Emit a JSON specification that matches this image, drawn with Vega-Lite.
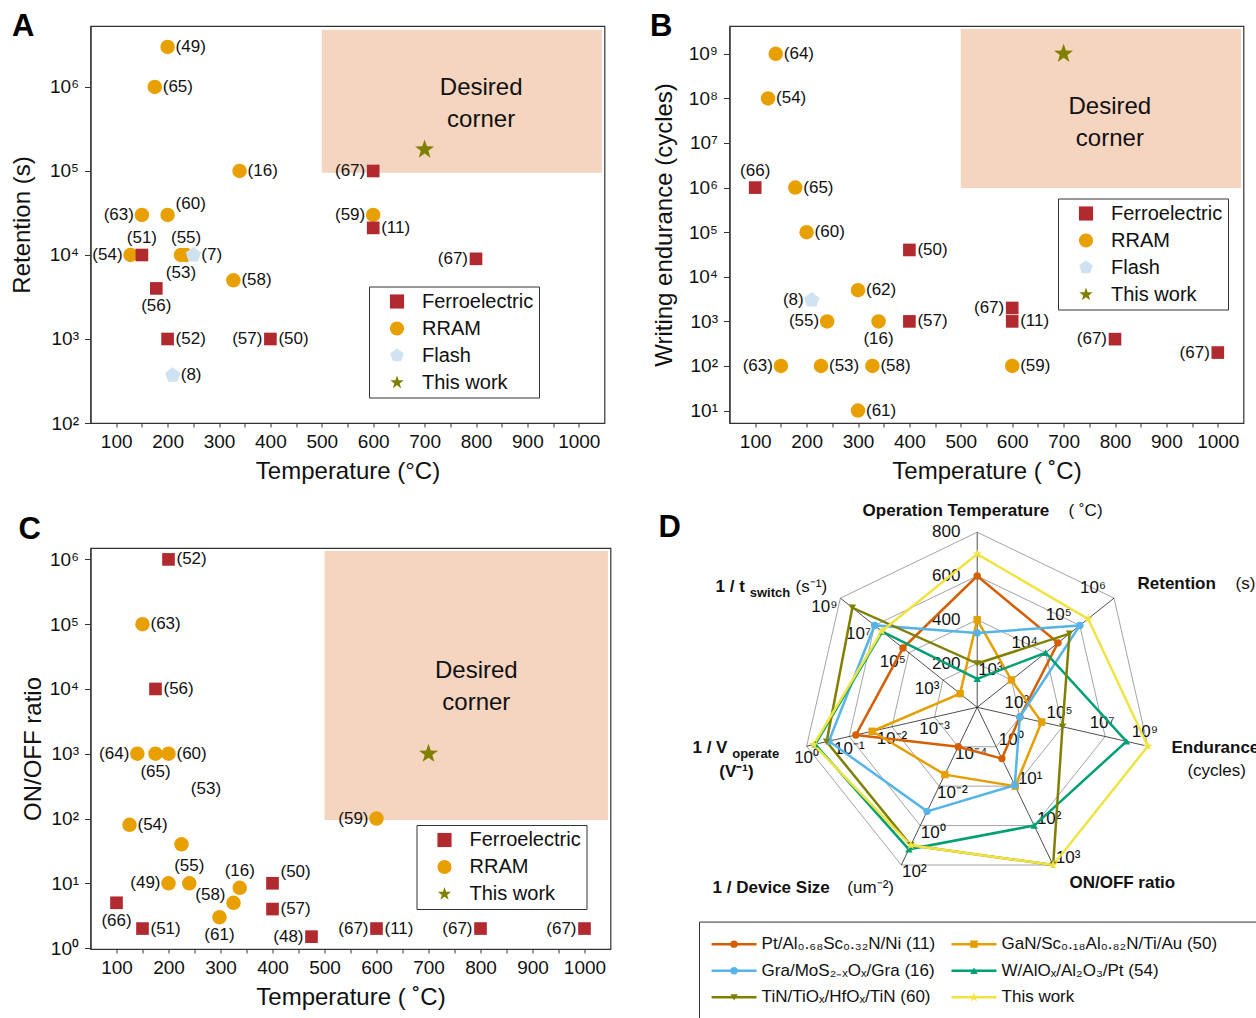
{
"$schema": "https://vega.github.io/schema/vega-lite/v6.json",
"background": "white",
"padding": {"left": 9.5, "top": 10, "right": 2, "bottom": 2},
"config": {
 "font": "Liberation Sans",
 "view": {"stroke": "#333", "strokeWidth": 1.2},
 "axis": {"domainColor": "#333", "domainWidth": 1.2, "tickColor": "#333", "tickWidth": 1, "labelFont": "Liberation Sans", "labelFontSize": 19, "labelColor": "#111", "titleFont": "Liberation Sans", "titleFontSize": 24, "titleFontWeight": "normal", "titleColor": "#111", "grid": false, "labelOverlap": false, "labelFlush": false},
 "axisX": {"tickSize": 4, "labelPadding": 5, "titlePadding": 8},
 "axisY": {"tickSize": 6, "labelPadding": 6},
 "text": {"font": "Liberation Sans", "fontSize": 17, "color": "#111"},
 "title": {"font": "Liberation Sans Narrow, Liberation Sans", "fontSize": 31, "fontWeight": "bold", "color": "#000", "anchor": "start", "frame": "group", "offset": 0, "baseline": "alphabetic"}
},
"datasets": {
 "A": [
  {"T":200,"v":3e6,"type":"RRAM","ref":"(49)","side":"r"},
  {"T":175,"v":1e6,"type":"RRAM","ref":"(65)","side":"r"},
  {"T":340,"v":1e5,"type":"RRAM","ref":"(16)","side":"r"},
  {"T":150,"v":3e4,"type":"RRAM","ref":"(63)","side":"l"},
  {"T":200,"v":3e4,"type":"RRAM","ref":"(60)","side":"tr"},
  {"T":128,"v":1e4,"type":"RRAM","ref":"(54)","side":"l"},
  {"T":226,"v":1e4,"type":"RRAM","ref":"(53)","side":"b"},
  {"T":236,"v":1e4,"type":"RRAM","ref":"(55)","side":"t"},
  {"T":328,"v":5e3,"type":"RRAM","ref":"(58)","side":"r"},
  {"T":600,"v":3e4,"type":"RRAM","ref":"(59)","side":"l"},
  {"T":250,"v":1e4,"type":"Flash","ref":"(7)","side":"r"},
  {"T":210,"v":370,"type":"Flash","ref":"(8)","side":"r"},
  {"T":150,"v":1e4,"type":"Ferroelectric","ref":"(51)","side":"t"},
  {"T":178,"v":4e3,"type":"Ferroelectric","ref":"(56)","side":"b"},
  {"T":200,"v":1e3,"type":"Ferroelectric","ref":"(52)","side":"r"},
  {"T":400,"v":1e3,"type":"Ferroelectric","ref":"(57)","side":"l"},
  {"T":400,"v":1e3,"type":"none","ref":"(50)","side":"r"},
  {"T":600,"v":1e5,"type":"Ferroelectric","ref":"(67)","side":"l"},
  {"T":600,"v":2.1e4,"type":"Ferroelectric","ref":"(11)","side":"r"},
  {"T":800,"v":9e3,"type":"Ferroelectric","ref":"(67)","side":"l"},
  {"T":700,"v":1.8e5,"type":"This work","ref":"","side":"none"}
 ],
 "B": [
  {"T":140,"v":1e9,"type":"RRAM","ref":"(64)","side":"r"},
  {"T":125,"v":1e8,"type":"RRAM","ref":"(54)","side":"r"},
  {"T":178,"v":1e6,"type":"RRAM","ref":"(65)","side":"r"},
  {"T":200,"v":1e5,"type":"RRAM","ref":"(60)","side":"r"},
  {"T":300,"v":5e3,"type":"RRAM","ref":"(62)","side":"r"},
  {"T":240,"v":1e3,"type":"RRAM","ref":"(55)","side":"l"},
  {"T":340,"v":1e3,"type":"RRAM","ref":"(16)","side":"b"},
  {"T":150,"v":100,"type":"RRAM","ref":"(63)","side":"l"},
  {"T":228,"v":100,"type":"RRAM","ref":"(53)","side":"r"},
  {"T":328,"v":100,"type":"RRAM","ref":"(58)","side":"r"},
  {"T":600,"v":100,"type":"RRAM","ref":"(59)","side":"r"},
  {"T":300,"v":10,"type":"RRAM","ref":"(61)","side":"r"},
  {"T":210,"v":3e3,"type":"Flash","ref":"(8)","side":"l"},
  {"T":100,"v":1e6,"type":"Ferroelectric","ref":"(66)","side":"t"},
  {"T":400,"v":4e4,"type":"Ferroelectric","ref":"(50)","side":"r"},
  {"T":400,"v":1e3,"type":"Ferroelectric","ref":"(57)","side":"r"},
  {"T":600,"v":2e3,"type":"Ferroelectric","ref":"(67)","side":"l"},
  {"T":600,"v":1e3,"type":"Ferroelectric","ref":"(11)","side":"r"},
  {"T":800,"v":400,"type":"Ferroelectric","ref":"(67)","side":"l"},
  {"T":1000,"v":200,"type":"Ferroelectric","ref":"(67)","side":"l"},
  {"T":700,"v":1e9,"type":"This work","ref":"","side":"none"}
 ],
 "C": [
  {"T":150,"v":1e5,"type":"RRAM","ref":"(63)","side":"r"},
  {"T":140,"v":1e3,"type":"RRAM","ref":"(64)","side":"l"},
  {"T":175,"v":1e3,"type":"RRAM","ref":"(65)","side":"b"},
  {"T":200,"v":1e3,"type":"RRAM","ref":"(60)","side":"r"},
  {"T":272,"v":290,"type":"none","ref":"(53)","side":"c"},
  {"T":125,"v":80,"type":"RRAM","ref":"(54)","side":"r"},
  {"T":225,"v":40,"type":"RRAM","ref":"","side":"none"},
  {"T":200,"v":10,"type":"RRAM","ref":"(49)","side":"l"},
  {"T":240,"v":10,"type":"RRAM","ref":"(55)","side":"t"},
  {"T":337,"v":8.5,"type":"RRAM","ref":"(16)","side":"t"},
  {"T":325,"v":5,"type":"RRAM","ref":"(58)","side":"tl"},
  {"T":298,"v":3,"type":"RRAM","ref":"(61)","side":"b"},
  {"T":600,"v":100,"type":"RRAM","ref":"(59)","side":"l"},
  {"T":200,"v":1e6,"type":"Ferroelectric","ref":"(52)","side":"r"},
  {"T":175,"v":1e4,"type":"Ferroelectric","ref":"(56)","side":"r"},
  {"T":400,"v":10,"type":"Ferroelectric","ref":"(50)","side":"tr"},
  {"T":400,"v":4,"type":"Ferroelectric","ref":"(57)","side":"r"},
  {"T":100,"v":5,"type":"Ferroelectric","ref":"(66)","side":"b"},
  {"T":150,"v":2,"type":"Ferroelectric","ref":"(51)","side":"r"},
  {"T":475,"v":1.5,"type":"Ferroelectric","ref":"(48)","side":"l"},
  {"T":600,"v":2,"type":"Ferroelectric","ref":"(67)","side":"l"},
  {"T":600,"v":2,"type":"none","ref":"(11)","side":"r"},
  {"T":800,"v":2,"type":"Ferroelectric","ref":"(67)","side":"l"},
  {"T":1000,"v":2,"type":"Ferroelectric","ref":"(67)","side":"l"},
  {"T":700,"v":1e3,"type":"This work","ref":"","side":"none"}
 ],
 "radarAxes": [
  {"i":0,"lv":[0.25,0.5,0.75,1],"tk":["200","400","600","800"]},
  {"i":1,"lv":[0.25,0.5,0.75,1],"tk":["10³","10⁴","10⁵","10⁶"]},
  {"i":2,"lv":[0.25,0.5,0.75,1],"tk":["10³","10⁵","10⁷","10⁹"]},
  {"i":3,"lv":[0.25,0.5,0.75,1],"tk":["10⁰","10¹","10²","10³"]},
  {"i":4,"lv":[0.25,0.5,0.75,1],"tk":["10⁻⁴","10⁻²","10⁰","10²"]},
  {"i":5,"lv":[0.25,0.5,0.75,1],"tk":["10⁻³","10⁻²","10⁻¹","10⁰"]},
  {"i":6,"lv":[0.25,0.5,0.75,1],"tk":["10³","10⁵","10⁷","10⁹"]}
 ],
 "radar": [
  {"s":"11","i":0,"v":600},{"s":"11","i":1,"v":2.3e4},{"s":"11","i":2,"v":1e3},{"s":"11","i":3,"v":2},{"s":"11","i":4,"v":1e-4},{"s":"11","i":5,"v":0.07},{"s":"11","i":6,"v":2.2e5},
  {"s":"50","i":0,"v":400},{"s":"50","i":1,"v":1e3},{"s":"50","i":2,"v":1.05e4},{"s":"50","i":3,"v":10},{"s":"50","i":4,"v":2.6e-3},{"s":"50","i":5,"v":0.029},{"s":"50","i":6,"v":100},
  {"s":"16","i":0,"v":340},{"s":"16","i":1,"v":1e5},{"s":"16","i":2,"v":1e3},{"s":"16","i":3,"v":9.5},{"s":"16","i":4,"v":0.19},{"s":"16","i":5,"v":0.3},{"s":"16","i":6,"v":1e7},
  {"s":"54","i":0,"v":130},{"s":"54","i":1,"v":1e4},{"s":"54","i":2,"v":1e8},{"s":"54","i":3,"v":100},{"s":"54","i":4,"v":16},{"s":"54","i":5,"v":0.63},{"s":"54","i":6,"v":3.5e6},
  {"s":"60","i":0,"v":200},{"s":"60","i":1,"v":5e4},{"s":"60","i":2,"v":1e5},{"s":"60","i":3,"v":1e3},{"s":"60","i":4,"v":10},{"s":"60","i":5,"v":0.34},{"s":"60","i":6,"v":2e8},
  {"s":"this","i":0,"v":700},{"s":"this","i":1,"v":1.75e5},{"s":"this","i":2,"v":1e9},{"s":"this","i":3,"v":1e3},{"s":"this","i":4,"v":10},{"s":"this","i":5,"v":0.68},{"s":"this","i":6,"v":3.8e6}
 ],
 "series": [
  {"s":"11","label":"Pt/Al₀.₆₈Sc₀.₃₂N/Ni (11)","k":0},
  {"s":"50","label":"GaN/Sc₀.₁₈Al₀.₈₂N/Ti/Au (50)","k":1},
  {"s":"16","label":"Gra/MoS₂₋ₓOₓ/Gra (16)","k":2},
  {"s":"54","label":"W/AlOₓ/Al₂O₃/Pt (54)","k":3},
  {"s":"60","label":"TiN/TiOₓ/HfOₓ/TiN (60)","k":4},
  {"s":"this","label":"This work","k":5}
 ]
},
"vconcat": [
 {
  "hconcat": [
   {
    "width": 514, "height": 397,
    "title": {"text": "A", "dx": -78.5, "dy": 21.4},
    "data": {"name": "A"},
    "encoding": {
     "x": {"field": "T", "type": "quantitative", "scale": {"domain": [50, 1050], "nice": false, "zero": false},
      "axis": {"title": "Temperature (°C)", "format": "d", "values": [100,150,200,250,300,350,400,450,500,550,600,650,700,750,800,850,900,950,1000], "labelExpr": "datum.value % 100 == 0 ? datum.label : ''"}},
     "y": {"field": "v", "type": "quantitative", "scale": {"type": "log", "domain": [100, 5.32e6], "nice": false},
      "axis": {"title": "Retention (s)", "titlePadding": 15, "values": [1e2,1e3,1e4,1e5,1e6],
       "labelExpr": "'10' + (round(log(datum.value)/LN10) == 2 ? '²' : round(log(datum.value)/LN10) == 3 ? '³' : round(log(datum.value)/LN10) == 4 ? '⁴' : round(log(datum.value)/LN10) == 5 ? '⁵' : '⁶')"}}
    },
    "layer": [
     {"data": {"values": [{"T": 500, "T2": 1045, "v": 9.5e4, "v2": 4.8e6}]}, "mark": {"type": "rect", "color": "#f5d4c0"}, "encoding": {"x2": {"field": "T2"}, "y2": {"field": "v2"}}},
     {"data": {"values": [{"T": 810, "v": 8.0e5}]}, "mark": {"type": "text", "text": ["Desired", "corner"], "fontSize": 24, "lineHeight": 32, "align": "center", "baseline": "alphabetic"}},
     {"transform": [{"filter": "datum.type != 'none'"}], "mark": {"type": "point", "filled": true, "opacity": 1, "strokeWidth": 0},
      "encoding": {
       "color": {"field": "type", "type": "nominal", "scale": {"domain": ["Ferroelectric","RRAM","Flash","This work"], "range": ["#b02a30","#e8a000","#cfe2f1","#808000"]},
        "legend": {"title": null, "orient": "none", "legendX": 278.5, "legendY": 260.5, "strokeColor": "#333", "fillColor": "white", "padding": 5, "labelFontSize": 20, "labelFont": "Liberation Sans", "labelColor": "#111", "symbolSize": 200, "symbolOffset": 13, "labelOffset": 15, "rowPadding": 7}},
       "shape": {"field": "type", "type": "nominal", "scale": {"domain": ["Ferroelectric","RRAM","Flash","This work"], "range": ["square","circle","M0,-1L0.951,-0.309L0.588,0.809L-0.588,0.809L-0.951,-0.309Z","M0,-1L0.235,-0.324L0.951,-0.309L0.38,0.124L0.588,0.809L0,0.4L-0.588,0.809L-0.38,0.124L-0.951,-0.309L-0.235,-0.324Z"]}},
       "size": {"condition": [{"test": "datum.type == 'Ferroelectric'", "value": 160}, {"test": "datum.type == 'Flash'", "value": 256}, {"test": "datum.type == 'This work'", "value": 400}], "value": 210}
      }},
     {"transform": [{"filter": "datum.side == 'r'"}], "mark": {"type": "text", "align": "left", "baseline": "middle", "dx": 8}, "encoding": {"text": {"field": "ref", "type": "nominal"}}},
     {"transform": [{"filter": "datum.side == 'l'"}], "mark": {"type": "text", "align": "right", "baseline": "middle", "dx": -8}, "encoding": {"text": {"field": "ref", "type": "nominal"}}},
     {"transform": [{"filter": "datum.side == 't'"}], "mark": {"type": "text", "align": "center", "baseline": "middle", "dy": -17}, "encoding": {"text": {"field": "ref", "type": "nominal"}}},
     {"transform": [{"filter": "datum.side == 'b'"}], "mark": {"type": "text", "align": "center", "baseline": "middle", "dy": 18}, "encoding": {"text": {"field": "ref", "type": "nominal"}}},
     {"transform": [{"filter": "datum.side == 'tr'"}], "mark": {"type": "text", "align": "left", "baseline": "middle", "dx": 8, "dy": -11}, "encoding": {"text": {"field": "ref", "type": "nominal"}}}
    ]
   },
   {
    "width": 514, "height": 397,
    "title": {"text": "B", "dx": -79.5, "dy": 21.4},
    "data": {"name": "B"},
    "encoding": {
     "x": {"field": "T", "type": "quantitative", "scale": {"domain": [50, 1050], "nice": false, "zero": false},
      "axis": {"title": "Temperature ( ˚C)", "format": "d", "values": [100,150,200,250,300,350,400,450,500,550,600,650,700,750,800,850,900,950,1000], "labelExpr": "datum.value % 100 == 0 ? datum.label : ''"}},
     "y": {"field": "v", "type": "quantitative", "scale": {"type": "log", "domain": [5.27, 4.2e9], "nice": false},
      "axis": {"title": "Writing endurance (cycles)", "titlePadding": 12, "values": [1e1,1e2,1e3,1e4,1e5,1e6,1e7,1e8,1e9],
       "labelExpr": "'10' + (round(log(datum.value)/LN10) == 1 ? '¹' : round(log(datum.value)/LN10) == 2 ? '²' : round(log(datum.value)/LN10) == 3 ? '³' : round(log(datum.value)/LN10) == 4 ? '⁴' : round(log(datum.value)/LN10) == 5 ? '⁵' : round(log(datum.value)/LN10) == 6 ? '⁶' : round(log(datum.value)/LN10) == 7 ? '⁷' : round(log(datum.value)/LN10) == 8 ? '⁸' : '⁹')"}}
    },
    "layer": [
     {"data": {"values": [{"T": 500, "T2": 1045, "v": 9.8e5, "v2": 3.6e9}]}, "mark": {"type": "rect", "color": "#f5d4c0"}, "encoding": {"x2": {"field": "T2"}, "y2": {"field": "v2"}}},
     {"data": {"values": [{"T": 790, "v": 4.45e7}]}, "mark": {"type": "text", "text": ["Desired", "corner"], "fontSize": 24, "lineHeight": 32, "align": "center", "baseline": "alphabetic"}},
     {"transform": [{"filter": "datum.type != 'none'"}], "mark": {"type": "point", "filled": true, "opacity": 1, "strokeWidth": 0},
      "encoding": {
       "color": {"field": "type", "type": "nominal", "scale": {"domain": ["Ferroelectric","RRAM","Flash","This work"], "range": ["#b02a30","#e8a000","#cfe2f1","#808000"]},
        "legend": {"title": null, "orient": "none", "legendX": 328.5, "legendY": 172.5, "strokeColor": "#333", "fillColor": "white", "padding": 5, "labelFontSize": 20, "labelFont": "Liberation Sans", "labelColor": "#111", "symbolSize": 200, "symbolOffset": 13, "labelOffset": 15, "rowPadding": 7}},
       "shape": {"field": "type", "type": "nominal", "scale": {"domain": ["Ferroelectric","RRAM","Flash","This work"], "range": ["square","circle","M0,-1L0.951,-0.309L0.588,0.809L-0.588,0.809L-0.951,-0.309Z","M0,-1L0.235,-0.324L0.951,-0.309L0.38,0.124L0.588,0.809L0,0.4L-0.588,0.809L-0.38,0.124L-0.951,-0.309L-0.235,-0.324Z"]}},
       "size": {"condition": [{"test": "datum.type == 'Ferroelectric'", "value": 160}, {"test": "datum.type == 'Flash'", "value": 256}, {"test": "datum.type == 'This work'", "value": 400}], "value": 210}
      }},
     {"transform": [{"filter": "datum.side == 'r'"}], "mark": {"type": "text", "align": "left", "baseline": "middle", "dx": 8}, "encoding": {"text": {"field": "ref", "type": "nominal"}}},
     {"transform": [{"filter": "datum.side == 'l'"}], "mark": {"type": "text", "align": "right", "baseline": "middle", "dx": -8}, "encoding": {"text": {"field": "ref", "type": "nominal"}}},
     {"transform": [{"filter": "datum.side == 't'"}], "mark": {"type": "text", "align": "center", "baseline": "middle", "dy": -17}, "encoding": {"text": {"field": "ref", "type": "nominal"}}},
     {"transform": [{"filter": "datum.side == 'b'"}], "mark": {"type": "text", "align": "center", "baseline": "middle", "dy": 18}, "encoding": {"text": {"field": "ref", "type": "nominal"}}}
    ]
   }
  ],
  "spacing": 125, "bounds": "flush",
  "resolve": {"scale": {"x": "independent", "y": "independent", "color": "independent", "shape": "independent"}, "legend": {"color": "independent", "shape": "independent"}}
 },
 {
  "hconcat": [
   {
    "width": 520, "height": 401,
    "title": {"text": "C", "dx": -72, "dy": 1.6},
    "data": {"name": "C"},
    "encoding": {
     "x": {"field": "T", "type": "quantitative", "scale": {"domain": [50, 1050], "nice": false, "zero": false},
      "axis": {"title": "Temperature ( ˚C)", "format": "d", "values": [100,150,200,250,300,350,400,450,500,550,600,650,700,750,800,850,900,950,1000], "labelExpr": "datum.value % 100 == 0 ? datum.label : ''"}},
     "y": {"field": "v", "type": "quantitative", "scale": {"type": "log", "domain": [0.967, 1.5e6], "nice": false},
      "axis": {"title": "ON/OFF ratio", "titlePadding": 4, "values": [1,1e1,1e2,1e3,1e4,1e5,1e6],
       "labelExpr": "'10' + (round(log(datum.value)/LN10) == 0 ? '⁰' : round(log(datum.value)/LN10) == 1 ? '¹' : round(log(datum.value)/LN10) == 2 ? '²' : round(log(datum.value)/LN10) == 3 ? '³' : round(log(datum.value)/LN10) == 4 ? '⁴' : round(log(datum.value)/LN10) == 5 ? '⁵' : '⁶')"}}
    },
    "layer": [
     {"data": {"values": [{"T": 500, "T2": 1045, "v": 95, "v2": 1.35e6}]}, "mark": {"type": "rect", "color": "#f5d4c0"}, "encoding": {"x2": {"field": "T2"}, "y2": {"field": "v2"}}},
     {"data": {"values": [{"T": 792, "v": 1.48e4}]}, "mark": {"type": "text", "text": ["Desired", "corner"], "fontSize": 24, "lineHeight": 32, "align": "center", "baseline": "alphabetic"}},
     {"transform": [{"filter": "datum.type != 'none'"}], "mark": {"type": "point", "filled": true, "opacity": 1, "strokeWidth": 0},
      "encoding": {
       "color": {"field": "type", "type": "nominal", "scale": {"domain": ["Ferroelectric","RRAM","This work"], "range": ["#b02a30","#e8a000","#808000"]},
        "legend": {"title": null, "orient": "none", "legendX": 326, "legendY": 277, "strokeColor": "#333", "fillColor": "white", "padding": 5, "labelFontSize": 20, "labelFont": "Liberation Sans", "labelColor": "#111", "symbolSize": 200, "symbolOffset": 13, "labelOffset": 15, "rowPadding": 7}},
       "shape": {"field": "type", "type": "nominal", "scale": {"domain": ["Ferroelectric","RRAM","This work"], "range": ["square","circle","M0,-1L0.235,-0.324L0.951,-0.309L0.38,0.124L0.588,0.809L0,0.4L-0.588,0.809L-0.38,0.124L-0.951,-0.309L-0.235,-0.324Z"]}},
       "size": {"condition": [{"test": "datum.type == 'Ferroelectric'", "value": 160}, {"test": "datum.type == 'This work'", "value": 400}], "value": 210}
      }},
     {"transform": [{"filter": "datum.side == 'r'"}], "mark": {"type": "text", "align": "left", "baseline": "middle", "dx": 8}, "encoding": {"text": {"field": "ref", "type": "nominal"}}},
     {"transform": [{"filter": "datum.side == 'l'"}], "mark": {"type": "text", "align": "right", "baseline": "middle", "dx": -8}, "encoding": {"text": {"field": "ref", "type": "nominal"}}},
     {"transform": [{"filter": "datum.side == 't'"}], "mark": {"type": "text", "align": "center", "baseline": "middle", "dy": -17}, "encoding": {"text": {"field": "ref", "type": "nominal"}}},
     {"transform": [{"filter": "datum.side == 'b'"}], "mark": {"type": "text", "align": "center", "baseline": "middle", "dy": 18}, "encoding": {"text": {"field": "ref", "type": "nominal"}}},
     {"transform": [{"filter": "datum.side == 'tr'"}], "mark": {"type": "text", "align": "left", "baseline": "middle", "dx": 8, "dy": -11}, "encoding": {"text": {"field": "ref", "type": "nominal"}}},
     {"transform": [{"filter": "datum.side == 'tl'"}], "mark": {"type": "text", "align": "right", "baseline": "middle", "dx": -8, "dy": -8}, "encoding": {"text": {"field": "ref", "type": "nominal"}}},
     {"transform": [{"filter": "datum.side == 'c'"}], "mark": {"type": "text", "align": "center", "baseline": "middle"}, "encoding": {"text": {"field": "ref", "type": "nominal"}}}
    ]
   },
   {
    "width": 557, "height": 470,
    "view": {"stroke": null},
    "title": {"text": "D", "dx": -41, "dy": 46.6},
    "encoding": {
     "x": {"field": "px", "type": "quantitative", "scale": {"domain": [-1.587, 1.596], "nice": false, "zero": false}, "axis": null},
     "y": {"field": "py", "type": "quantitative", "scale": {"domain": [-1.775, 0.91], "nice": false, "zero": false}, "axis": null}
    },
    "layer": [
     {
      "data": {"name": "radarAxes"},
      "transform": [
       {"flatten": ["lv", "tk"]},
       {"calculate": "datum.lv * sin(datum.i * 2 * PI / 7)", "as": "px"},
       {"calculate": "datum.lv * cos(datum.i * 2 * PI / 7)", "as": "py"},
       {"calculate": "0", "as": "o"}
      ],
      "layer": [
       {"mark": {"type": "line", "interpolate": "linear-closed", "color": "#8c8c8c", "strokeWidth": 0.8}, "encoding": {"detail": {"field": "lv", "type": "nominal"}, "order": {"field": "i", "type": "quantitative"}}},
       {"transform": [{"filter": "datum.lv == 1"}], "mark": {"type": "rule", "color": "#222", "strokeWidth": 0.8}, "encoding": {"x2": {"field": "o"}, "y2": {"field": "o"}}},
       {"transform": [{"filter": "datum.i == 0"}], "mark": {"type": "text", "align": "center", "baseline": "middle", "dx": -31, "dy": 0}, "encoding": {"text": {"field": "tk", "type": "nominal"}}},
       {"transform": [{"filter": "datum.i == 1"}], "mark": {"type": "text", "align": "center", "baseline": "middle", "dx": -21, "dy": -10}, "encoding": {"text": {"field": "tk", "type": "nominal"}}},
       {"transform": [{"filter": "datum.i == 2"}], "mark": {"type": "text", "align": "center", "baseline": "middle", "dx": -3, "dy": -14}, "encoding": {"text": {"field": "tk", "type": "nominal"}}},
       {"transform": [{"filter": "datum.i == 3"}], "mark": {"type": "text", "align": "center", "baseline": "middle", "dx": 15, "dy": -7}, "encoding": {"text": {"field": "tk", "type": "nominal"}}},
       {"transform": [{"filter": "datum.i == 4"}], "mark": {"type": "text", "align": "center", "baseline": "middle", "dx": 13, "dy": 7}, "encoding": {"text": {"field": "tk", "type": "nominal"}}},
       {"transform": [{"filter": "datum.i == 5"}], "mark": {"type": "text", "align": "center", "baseline": "middle", "dx": 0, "dy": 12}, "encoding": {"text": {"field": "tk", "type": "nominal"}}},
       {"transform": [{"filter": "datum.i == 6"}], "mark": {"type": "text", "align": "center", "baseline": "middle", "dx": -16, "dy": 9}, "encoding": {"text": {"field": "tk", "type": "nominal"}}}
      ]
     },
     {
      "data": {"name": "radar"},
      "transform": [
       {"calculate": "datum.i == 0 ? datum.v / 800 : datum.i == 1 ? (log(datum.v) / LN10 - 2) / 4 : datum.i == 2 ? (log(datum.v) / LN10 - 1) / 8 : datum.i == 3 ? (log(datum.v) / LN10 + 1) / 4 : datum.i == 4 ? (log(datum.v) / LN10 + 6) / 8 : datum.i == 5 ? (log(datum.v) / LN10 + 4) / 4 : (log(datum.v) / LN10 - 1) / 8", "as": "r"},
       {"calculate": "datum.r * sin(datum.i * 2 * PI / 7)", "as": "px"},
       {"calculate": "datum.r * cos(datum.i * 2 * PI / 7)", "as": "py"}
      ],
      "layer": [
       {"mark": {"type": "line", "interpolate": "linear-closed", "strokeWidth": 2.5},
        "encoding": {"color": {"field": "s", "type": "nominal", "scale": {"domain": ["11","50","16","54","60","this"], "range": ["#d55e00","#e69f00","#56b4e9","#009e73","#808000","#f0e442"]}, "legend": null}, "order": {"field": "i", "type": "quantitative"}}},
       {"mark": {"type": "point", "filled": true, "opacity": 1, "strokeWidth": 0},
        "encoding": {"color": {"field": "s", "type": "nominal", "legend": null},
         "shape": {"field": "s", "type": "nominal", "scale": {"domain": ["11","50","16","54","60","this"], "range": ["circle","square","circle","triangle-up","triangle-down","M0,-1L0.235,-0.324L0.951,-0.309L0.38,0.124L0.588,0.809L0,0.4L-0.588,0.809L-0.38,0.124L-0.951,-0.309L-0.235,-0.324Z"]}, "legend": null},
         "size": {"condition": {"test": "datum.s == 'this'", "value": 100}, "value": 55}}}
      ]
     },
     {"data": {"values": [
       {"px": -0.655, "py": 1.122, "t": "Operation Temperature"},
       {"px": 0.916, "py": 0.705, "t": "Retention"},
       {"px": 1.11, "py": -0.234, "t": "Endurance"},
       {"px": 0.527, "py": -1.006, "t": "ON/OFF ratio"},
       {"px": -1.512, "py": -1.03, "t": "1  / Device Size"},
       {"px": -1.627, "py": -0.234, "t": "1  / V"},
       {"px": -1.474, "py": -0.368, "t": "(V⁻¹)"},
       {"px": -1.495, "py": 0.689, "t": "1  / t"}
      ]}, "mark": {"type": "text", "fontWeight": "bold", "align": "left", "baseline": "middle"}, "encoding": {"text": {"field": "t", "type": "nominal"}}},
     {"data": {"values": [
       {"px": 0.522, "py": 1.122, "t": "( ˚C)"},
       {"px": 1.476, "py": 0.705, "t": "(s)"},
       {"px": 1.201, "py": -0.362, "t": "(cycles)"},
       {"px": -0.742, "py": -1.03, "t": "(um⁻²)"},
       {"px": -1.038, "py": 0.689, "t": "(s⁻¹)"}
      ]}, "mark": {"type": "text", "align": "left", "baseline": "middle"}, "encoding": {"text": {"field": "t", "type": "nominal"}}},
     {"data": {"values": [
       {"px": -1.4, "py": -0.268, "t": "operate"},
       {"px": -1.3, "py": 0.655, "t": "switch"}
      ]}, "mark": {"type": "text", "fontWeight": "bold", "fontSize": 13, "align": "left", "baseline": "middle"}, "encoding": {"text": {"field": "t", "type": "nominal"}}},
     {"data": {"values": [{"px": -1.587, "px2": 1.596, "py": -1.227, "py2": -1.85}]}, "mark": {"type": "rect", "fillOpacity": 0, "stroke": "#333", "strokeWidth": 1}, "encoding": {"x2": {"field": "px2"}, "y2": {"field": "py2"}}},
     {
      "data": {"name": "series"},
      "transform": [
       {"calculate": "-1.518 + 1.371 * (datum.k % 2)", "as": "lx1"},
       {"calculate": "datum.lx1 + 0.257", "as": "lx2"},
       {"calculate": "datum.lx1 + 0.1285", "as": "px"},
       {"calculate": "datum.lx1 + 0.286", "as": "tx"},
       {"calculate": "-1.353 - 0.152 * floor(datum.k / 2)", "as": "py"}
      ],
      "layer": [
       {"mark": {"type": "rule", "strokeWidth": 2.5}, "encoding": {"x": {"field": "lx1", "type": "quantitative"}, "x2": {"field": "lx2"}, "color": {"field": "s", "type": "nominal", "legend": null}}},
       {"mark": {"type": "point", "filled": true, "opacity": 1, "strokeWidth": 0}, "encoding": {"color": {"field": "s", "type": "nominal", "legend": null}, "shape": {"field": "s", "type": "nominal", "legend": null}, "size": {"condition": {"test": "datum.s == 'this'", "value": 100}, "value": 55}}},
       {"mark": {"type": "text", "align": "left", "baseline": "middle"}, "encoding": {"x": {"field": "tx", "type": "quantitative"}, "text": {"field": "label", "type": "nominal"}}}
      ]
     }
    ]
   }
  ],
  "spacing": 89, "bounds": "flush",
  "resolve": {"scale": {"x": "independent", "y": "independent", "color": "independent", "shape": "independent"}, "legend": {"color": "independent", "shape": "independent"}}
 }
],
"spacing": 17,
"resolve": {"scale": {"x": "independent", "y": "independent", "color": "independent", "shape": "independent"}, "legend": {"color": "independent", "shape": "independent"}}
}
